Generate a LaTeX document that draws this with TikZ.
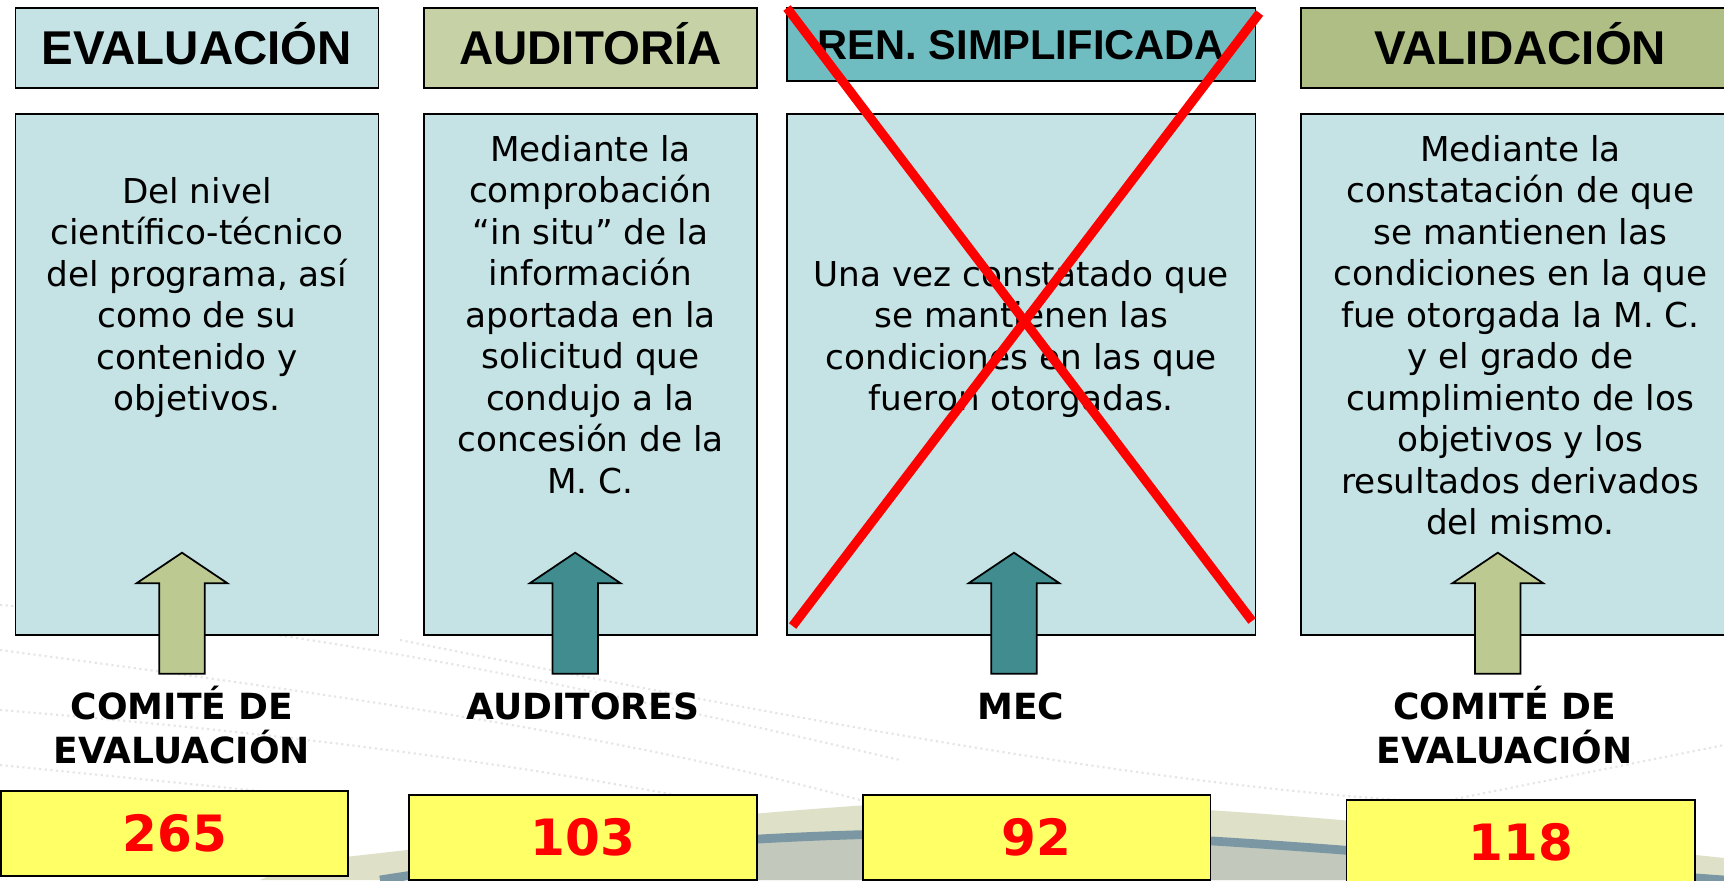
\documentclass[tikz,border=0pt]{standalone}
\usepackage{fontspec}
\setmainfont{DejaVu Sans}
\newfontfamily\headfont{Liberation Sans}
\usepackage{tikz}
\definecolor{boxcyan}{RGB}{197,227,228}
\definecolor{headolive}{RGB}{198,210,165}
\definecolor{headteal}{RGB}{111,189,193}
\definecolor{headgreen}{RGB}{175,190,132}
\definecolor{arrkhaki}{RGB}{188,201,145}
\definecolor{arrteal}{RGB}{64,140,143}
\definecolor{numyellow}{RGB}{255,255,102}
\definecolor{hillbeige}{RGB}{222,224,200}
\definecolor{hillgray}{RGB}{194,201,188}
\definecolor{hillblue}{RGB}{122,151,163}

\tikzset{
  headbox/.style={draw, line width=1pt, minimum height=1.588cm, inner sep=0pt,
    text height=19.3pt, text depth=0pt, font=\headfont\bfseries\fontsize{27}{30}\selectfont},
  bodybox/.style={draw, line width=1pt, fill=boxcyan, minimum height=10.432cm},
  bodytext/.style={anchor=north, inner sep=0pt, align=center, font=\fontsize{19.5}{23.6}\selectfont},
  whotext/.style={inner sep=0pt, align=center, font=\bfseries\fontsize{20.5}{25}\selectfont},
  numbox/.style={draw, line width=1pt, fill=numyellow, minimum height=1.706cm, text=red,
    font=\bfseries\fontsize{28.5}{30}\selectfont},
  bigarrow/.pic={\path[pic actions] (-22.8,0) -- (-22.8,-90.4) -- (-45.5,-90.4) -- (0,-121)
    -- (45.5,-90.4) -- (22.8,-90.4) -- (22.8,0) -- cycle;},
  bgline/.style={gray!20, dotted, line width=1.2pt},
  crossline/.style={red, line width=5.2pt}
}

\begin{document}
\begin{tikzpicture}[x=0.02cm, y=-0.02cm]
  \useasboundingbox (0,0) rectangle (1724,880);
  \fill[white] (0,0) rectangle (1724,880);

  % background
  \draw[bgline] (0,605) .. controls (300,625) and (600,690) .. (900,760);
  \draw[bgline] (0,650) .. controls (300,690) and (600,730) .. (860,800);
  \draw[bgline] (0,710) .. controls (250,730) and (500,760) .. (700,800);
  \draw[bgline] (0,765) .. controls (150,780) and (250,790) .. (350,800);
  \draw[bgline] (400,640) .. controls (700,700) and (1100,780) .. (1400,800);
  \draw[bgline] (1450,800) .. controls (1550,780) and (1650,760) .. (1724,745);
  \fill[hillbeige] (260,880) -- (300,862) .. controls (500,840) and (700,815) .. (900,803)
    .. controls (1100,798) and (1300,812) .. (1724,858) -- (1724,880) -- cycle;
  \fill[hillgray] (380,880) .. controls (600,845) and (800,832) .. (1000,833)
    .. controls (1200,834) and (1450,860) .. (1724,880) -- cycle;
  \draw[hillblue, line width=5pt] (380,880) .. controls (600,845) and (800,832) .. (1000,833)
    .. controls (1200,834) and (1450,860) .. (1724,880);

  % headers
  \node[headbox, fill=boxcyan, minimum width=7.262cm] (h1) at (197,48) {EVALUACIÓN};
  \node[headbox, fill=headolive, minimum width=6.66cm] (h2) at (590.5,48) {AUDITORÍA};
  \node[headbox, fill=headteal, minimum width=9.372cm, minimum height=1.448cm,
    text height=17pt, font=\headfont\bfseries\fontsize{23.7}{26}\selectfont] (h3) at (1021.3,44.5) {REN. SIMPLIFICADA};
  \node[headbox, fill=headgreen, minimum width=8.784cm] (h4) at (1520.4,48) {VALIDACIÓN};

  % bodies
  \node[bodybox, minimum width=7.262cm] (b1) at (197,374.5) {};
  \node[bodybox, minimum width=6.66cm] (b2) at (590.5,374.5) {};
  \node[bodybox, minimum width=9.372cm] (b3) at (1021.3,374.5) {};
  \node[bodybox, minimum width=8.784cm] (b4) at (1520.4,374.5) {};

  \node[bodytext] (t1) at (197,177) {Del nivel\\científico-técnico\\del programa, así\\como de su\\contenido y\\objetivos.};
  \node[bodytext] (t2) at (590.5,135) {Mediante la\\comprobación\\“in situ” de la\\información\\aportada en la\\solicitud que\\condujo a la\\concesión de la\\M. C.};
  \node[bodytext] (t3) at (1021.3,260) {Una vez constatado que\\se mantienen las\\condiciones en las que\\fueron otorgadas.};
  \node[bodytext] (t4) at (1520.4,135) {Mediante la\\constatación de que\\se mantienen las\\condiciones en la que\\fue otorgada la M. C.\\y el grado de\\cumplimiento de los\\objetivos y los\\resultados derivados\\del mismo.};

  % arrows
  \pic[draw, line width=1pt, fill=arrkhaki] at (182,673.7) {bigarrow};
  \pic[draw, line width=1pt, fill=arrteal] at (575.2,673.7) {bigarrow};
  \pic[draw, line width=1pt, fill=arrteal] at (1014,673.7) {bigarrow};
  \pic[draw, line width=1pt, fill=arrkhaki] at (1497.8,673.7) {bigarrow};

  \node[whotext] (w1) at (182,725) {COMITÉ DE\\EVALUACIÓN};
  \node[whotext] (w2) at (582.6,706.8) {AUDITORES};
  \node[whotext] (w3) at (1020.6,706.8) {MEC};
  \node[whotext] (w4) at (1504.6,725) {COMITÉ DE\\EVALUACIÓN};

  % numbers
  \node[numbox, minimum width=6.946cm] (n1) at (174.6,833.4) {265};
  \node[numbox, minimum width=6.956cm] (n2) at (583.1,837.4) {103};
  \node[numbox, minimum width=6.952cm] (n3) at (1036.6,837.4) {92};
  \node[numbox, minimum width=6.964cm] (n4) at (1520.6,842.7) {118};

  % crossed out
  \draw[crossline] (787,8) -- (1252,621);
  \draw[crossline] (1259.5,13) -- (792.6,626);
\end{tikzpicture}
\end{document}
